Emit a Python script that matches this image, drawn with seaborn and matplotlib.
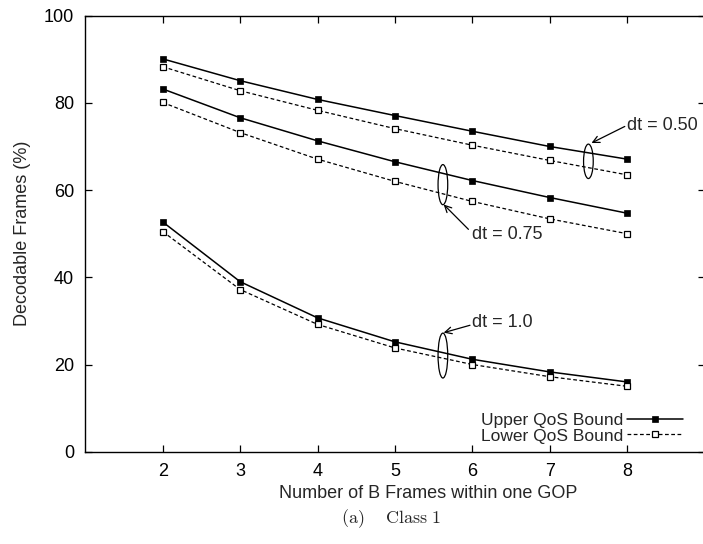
import numpy as np
import pandas as pd
import matplotlib
matplotlib.use("Agg")
import matplotlib.pyplot as plt
import seaborn as sns
from matplotlib.patches import Ellipse
from matplotlib.lines import Line2D

# ---- data ----
b_frames = [2, 3, 4, 5, 6, 7, 8]
upper_050 = [90.1, 85.1, 80.8, 77.1, 73.5, 70.0, 67.1]
lower_050 = [88.3, 82.8, 78.3, 74.1, 70.3, 66.8, 63.5]
upper_075 = [83.2, 76.6, 71.3, 66.5, 62.2, 58.3, 54.7]
lower_075 = [80.1, 73.2, 67.1, 62.0, 57.4, 53.4, 50.0]
upper_100 = [52.7, 39.0, 30.7, 25.2, 21.2, 18.3, 16.0]
lower_100 = [50.5, 37.2, 29.2, 23.8, 20.0, 17.2, 15.0]
x_ticks = [2, 3, 4, 5, 6, 7, 8]
y_ticks = [0, 20, 40, 60, 80, 100]
legend_labels = ["Upper QoS Bound", "Lower QoS Bound"]
dt_labels = ["dt = 0.50", "dt = 0.75", "dt = 1.0"]

sns.set_theme(style="ticks")
plt.rcParams["font.family"] = ["Liberation Sans", "DejaVu Sans"]
plt.rcParams["mathtext.fontset"] = "cm"

W, H = 703, 544
fig = plt.figure(figsize=(W / 100, H / 100), dpi=100)
ax_l, ax_r, ax_t, ax_b = 85.3, 704.5, 15.7, 451.7
ax = fig.add_axes([ax_l / W, 1 - ax_b / H, (ax_r - ax_l) / W, (ax_b - ax_t) / H])

series = [
    (upper_050, "upper"), (lower_050, "lower"),
    (upper_075, "upper"), (lower_075, "lower"),
    (upper_100, "upper"), (lower_100, "lower"),
]
upper_style = dict(color="black", linewidth=1.1, marker="s", markersize=5.0,
                   markerfacecolor="black", markeredgecolor="black",
                   markeredgewidth=0.5)
lower_style = dict(color="black", linewidth=0.9, linestyle=(0, (3, 2)),
                   marker="s", markersize=4.6, markerfacecolor="white",
                   markeredgecolor="black", markeredgewidth=0.9)
for vals, kind in series:
    df = pd.DataFrame({"x": b_frames, "y": vals})
    style = upper_style if kind == "upper" else lower_style
    sns.lineplot(data=df, x="x", y="y", ax=ax, **style)

ax.set_xlim(1, 9)
ax.set_ylim(0, 100)
ax.set_xticks(x_ticks)
ax.set_yticks(y_ticks)
ax.set_xlabel("")
ax.set_ylabel("")
ax.tick_params(direction="in", length=5, width=0.9, top=True, right=True,
               labelsize=13, colors="black")
ax.tick_params(axis="x", pad=8)
ax.tick_params(axis="y", pad=8)
for s in ax.spines.values():
    s.set_visible(True)
    s.set_linewidth(1.0)
    s.set_color("black")

# ellipses and annotations
ell_specs = [((7.50, 66.6), 0.125, 7.9), ((5.62, 61.25), 0.125, 9.2), ((5.62, 22.05), 0.125, 10.3)]
for (cx, cy), w, h in ell_specs:
    ax.add_patch(Ellipse((cx, cy), w, h, fill=False, edgecolor="black", linewidth=0.9))

arrow = dict(arrowstyle="->", color="black", lw=0.9, shrinkA=0, shrinkB=0)
ax.annotate("", xy=(7.54, 70.8), xytext=(7.97, 74.6), arrowprops=arrow)
ax.text(8.0, 74.8, dt_labels[0], fontsize=13, ha="left", va="center")
ax.annotate("", xy=(5.63, 56.7), xytext=(5.95, 51.0), arrowprops=arrow)
ax.text(6.0, 49.9, dt_labels[1], fontsize=13, ha="left", va="center")
ax.annotate("", xy=(5.63, 27.3), xytext=(5.97, 29.0), arrowprops=arrow)
ax.text(6.0, 29.6, dt_labels[2], fontsize=13, ha="left", va="center")

# legend
handles = [Line2D([], [], **upper_style), Line2D([], [], **lower_style)]
ax.legend(handles, legend_labels, loc="center right", frameon=False,
          markerfirst=False, fontsize=12.5, labelspacing=0.0,
          handlelength=3.2, handletextpad=0.25, borderpad=0, borderaxespad=0,
          bbox_to_anchor=(8.72, 5.35), bbox_transform=ax.transData)

fig.text(23 / W, 1 - ((ax_t + ax_b) / 2) / H, "Decodable Frames (%)", rotation=90,
         ha="center", va="center", fontsize=13)
fig.text(428 / W, 1 - 494 / H, "Number of B Frames within one GOP",
         ha="center", va="center", fontsize=13)
fig.text(391 / W, 1 - 519 / H, r"$\mathrm{(a)\quad\ Class\ 1}$",
         ha="center", va="center", fontsize=13)

fig.savefig("out.png", dpi=100)
